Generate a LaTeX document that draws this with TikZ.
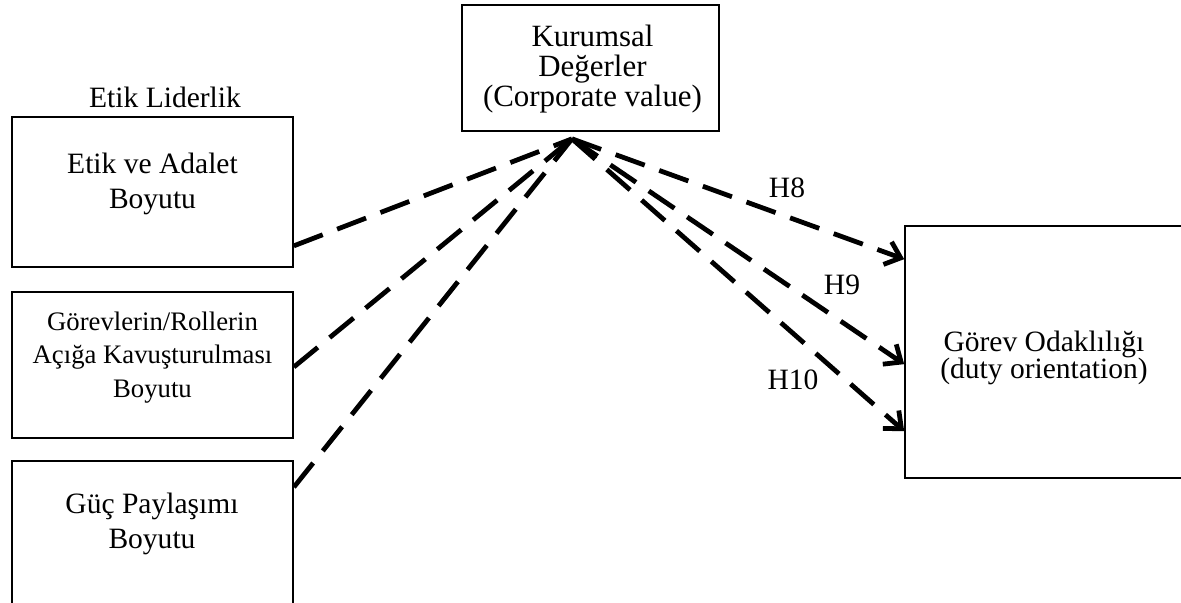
\documentclass[tikz,border=0pt]{standalone}
\usepackage{fontspec}
\setmainfont{Liberation Serif}
\usetikzlibrary{arrows.meta, positioning}

\begin{document}
\begin{tikzpicture}[
  box/.style={rectangle, draw=black, line width=1.2pt},
  txt/.style={align=center, inner sep=0pt},
  link/.style={line width=3.4pt, dash pattern=on 22pt off 11pt},
  arr/.style={link, -{Straight Barb[length=3.5mm, width=6mm]}}
]
\useasboundingbox (0,0) rectangle (29.525,-15.075);
\clip (0,0) rectangle (29.525,-15.075);

% Boxes of the model
\node[box, minimum width=7.025cm, minimum height=3.75cm] (etik) at (3.8125,-4.8) {};
\node[box, minimum width=7.025cm, minimum height=3.65cm] (rol) at (3.8125,-9.125) {};
\node[box, minimum width=7.025cm, minimum height=4.5cm] (guc) at (3.8125,-13.775) {};
\node[box, minimum width=6.425cm, minimum height=3.15cm] (kurum) at (14.7625,-1.7) {};
\node[box, minimum width=7.05cm, minimum height=6.3cm] (odak) at (26.15,-8.8) {};

% Texts inside and above the boxes
\node[txt, font=\fontsize{21}{25}\selectfont, anchor=base] (lider) at (4.125,-2.7) {Etik Liderlik};
\node[txt, font=\fontsize{21}{24.9}\selectfont] (etiktxt) at (3.8125,-4.6) {Etik ve Adalet\\Boyutu};
\node[txt, font=\fontsize{19}{23.8}\selectfont] (roltxt) at (3.8125,-8.94) {Görevlerin/Rollerin\\Açığa Kavuşturulması\\Boyutu};
\node[txt, font=\fontsize{21}{24.9}\selectfont] (guctxt) at (3.8,-13.1) {Güç Paylaşımı\\Boyutu};
\node[txt, font=\fontsize{22}{21.3}\selectfont] (kurumtxt) at (14.8125,-1.725) {Kurumsal\\Değerler\\(Corporate value)};
\node[txt, font=\fontsize{21}{19.2}\selectfont] (odaktxt) at (26.1,-8.95) {Görev Odaklılığı\\(duty orientation)};

% Hypothesis labels
\node[txt, font=\fontsize{21}{24}\selectfont] (h8) at (19.675,-4.7) {H8};
\node[txt, font=\fontsize{21}{24}\selectfont] (h9) at (21.05,-7.125) {H9};
\node[txt, font=\fontsize{21}{24}\selectfont] (h10) at (19.825,-9.5) {H10};

% Meeting point under Kurumsal Degerler
\coordinate (hub) at ([xshift=-0.4625cm, yshift=-0.175cm]kurum.south);

% Connectors
\draw[link] ([yshift=0.55cm]etik.south east) -- (hub);
\draw[link] ([yshift=-0.05cm]rol.east) -- (hub);
\draw[link] ([yshift=-0.675cm]guc.north east) -- (hub);
\draw[arr] (hub) -- ([yshift=-0.85cm]odak.north west);
\draw[arr] (hub) -- ([yshift=-3.475cm]odak.north west);
\draw[arr] (hub) -- ([yshift=-5.15cm]odak.north west);
\end{tikzpicture}
\end{document}
